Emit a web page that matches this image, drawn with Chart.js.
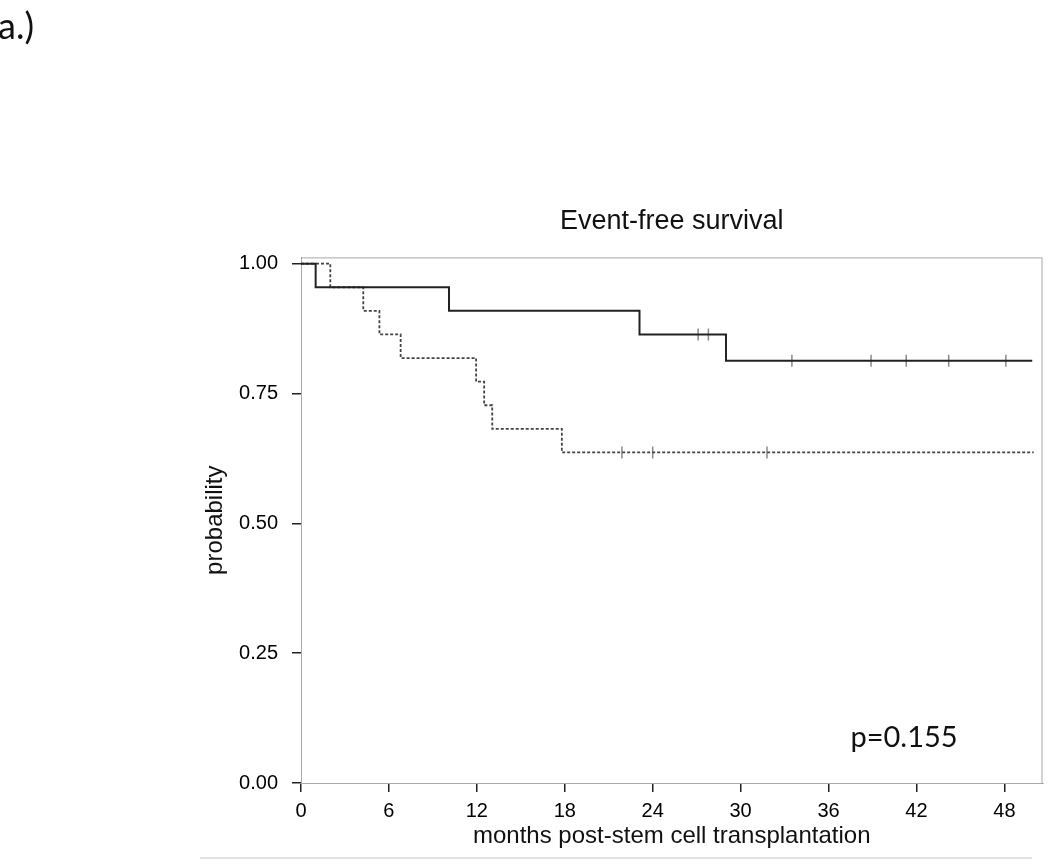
<!DOCTYPE html>
<html lang="en">
<head>
    <meta charset="UTF-8">
    <title>Event-free survival</title>
    <script src="https://cdn.jsdelivr.net/npm/chart.js@4.4.1/dist/chart.umd.min.js"></script>
    <style>
        html, body { margin: 0; padding: 0; background: #fff; }
        #wrap { width: 1050px; height: 864px; position: relative; }
    </style>
</head>
<body>
    <div id="wrap"><canvas id="kmChart" width="1050" height="864"></canvas></div>
    <script>
        // Kaplan-Meier steps (months, probability)
        const solidTimes = [0, 1, 10.1, 23.1, 29.0, 49.9];
        const solidProb = [1, 0.9545, 0.9091, 0.8636, 0.8128, 0.8128];
        const dashedTimes = [0, 2.0, 4.25, 5.35, 6.8, 11.95, 12.5, 13.05, 17.8, 50];
        const dashedProb = [1, 0.9545, 0.9091, 0.8636, 0.8182, 0.7727, 0.7273, 0.6818, 0.6364, 0.6364];

        // censored observations
        const solidCensorTimes = [27.1, 27.8, 33.5, 38.9, 41.3, 44.2, 48.1];
        const solidCensorProb = [0.8636, 0.8636, 0.8128, 0.8128, 0.8128, 0.8128, 0.8128];
        const dashedCensorTimes = [21.9, 24.0, 31.8];
        const dashedCensorProb = [0.6364, 0.6364, 0.6364];

        // tick labels
        const xTicks = [0, 6, 12, 18, 24, 30, 36, 42, 48];
        const yTicks = [0, 0.25, 0.5, 0.75, 1];

        const toPoints = (xs, ys) => xs.map((x, i) => ({ x: x, y: ys[i] }));

        // frame around plot + extra labels
        const decorPlugin = {
            id: 'decor',
            beforeDatasetsDraw(chart) {
                const { ctx, chartArea } = chart;
                ctx.save();
                ctx.strokeStyle = '#a8a8a8';
                ctx.lineWidth = 1;
                ctx.strokeRect(chartArea.left + 0.5, chartArea.top + 0.5,
                    chartArea.right - chartArea.left - 1, chartArea.bottom - chartArea.top);
                ctx.restore();
            },
            afterDraw(chart) {
                const { ctx } = chart;
                ctx.save();
                ctx.fillStyle = '#111';
                ctx.font = '36px Lato, "Open Sans", sans-serif';
                ctx.textBaseline = 'alphabetic';
                ctx.textAlign = 'left';
                ctx.fillText('a.)', -2, 39);

                ctx.font = '29px Lato, "Open Sans", sans-serif';
                ctx.textAlign = 'center';
                ctx.fillText('p=0.155', 904, 747);

                ctx.strokeStyle = '#e2e2e2';
                ctx.lineWidth = 2;
                ctx.beginPath();
                ctx.moveTo(200, 858);
                ctx.lineTo(1032, 858);
                ctx.stroke();
                ctx.restore();
            }
        };

        function renderChart() {
            const ctx = document.getElementById('kmChart').getContext('2d');
            const tickFont = { family: '"Liberation Sans", Arial, sans-serif', size: 20 };

            new Chart(ctx, {
                type: 'line',
                data: {
                    datasets: [{
                        label: 'group 1',
                        data: toPoints(solidTimes, solidProb),
                        stepped: 'before',
                        borderColor: '#222',
                        borderWidth: 2,
                        pointRadius: 0,
                        fill: false
                    }, {
                        label: 'group 2',
                        data: toPoints(dashedTimes, dashedProb),
                        stepped: 'before',
                        borderColor: '#444',
                        borderWidth: 1.8,
                        borderDash: [3, 2],
                        pointRadius: 0,
                        fill: false
                    }, {
                        label: 'censored 1',
                        type: 'scatter',
                        data: toPoints(solidCensorTimes, solidCensorProb),
                        pointStyle: 'line',
                        rotation: 90,
                        radius: 6,
                        borderColor: '#8a8a8a',
                        borderWidth: 1.5,
                        showLine: false
                    }, {
                        label: 'censored 2',
                        type: 'scatter',
                        data: toPoints(dashedCensorTimes, dashedCensorProb),
                        pointStyle: 'line',
                        rotation: 90,
                        radius: 6,
                        borderColor: '#8a8a8a',
                        borderWidth: 1.5,
                        showLine: false
                    }]
                },
                options: {
                    responsive: false,
                    animation: false,
                    layout: { padding: { left: 0, right: 7, top: 0, bottom: 0 } },
                    plugins: {
                        legend: { display: false },
                        tooltip: { enabled: false },
                        title: {
                            display: true,
                            text: 'Event-free survival',
                            fullSize: false,
                            color: '#111',
                            font: { family: '"Liberation Sans", Arial, sans-serif', size: 27, weight: 'normal' },
                            padding: { top: 205, bottom: 20 }
                        }
                    },
                    scales: {
                        x: {
                            type: 'linear',
                            min: 0,
                            max: 50.6,
                            afterFit: (scale) => { scale.height = 81; },
                            afterBuildTicks: (scale) => { scale.ticks = xTicks.map(v => ({ value: v })); },
                            ticks: {
                                color: '#000',
                                font: tickFont,
                                padding: 7,
                                maxRotation: 0,
                                callback: (v) => String(v)
                            },
                            grid: { drawOnChartArea: false, tickLength: 9, color: '#222', lineWidth: 1.5 },
                            border: { color: '#888', width: 1 },
                            title: {
                                display: true,
                                text: 'months post-stem cell transplantation',
                                color: '#111',
                                font: { family: '"Liberation Sans", Arial, sans-serif', size: 24 },
                                padding: { top: 0, bottom: 13 }
                            }
                        },
                        y: {
                            type: 'linear',
                            min: 0,
                            max: 1.012,
                            afterFit: (scale) => { scale.width = 301; },
                            afterBuildTicks: (scale) => { scale.ticks = yTicks.map(v => ({ value: v })); },
                            ticks: {
                                color: '#000',
                                font: tickFont,
                                padding: 14,
                                callback: (v) => Number(v).toFixed(2)
                            },
                            grid: { drawOnChartArea: false, tickLength: 9, color: '#222', lineWidth: 1.5 },
                            border: { color: '#888', width: 1 },
                            title: {
                                display: true,
                                text: 'probability',
                                color: '#111',
                                font: { family: '"Liberation Sans", Arial, sans-serif', size: 24 },
                                padding: { top: 201, bottom: 0 }
                            }
                        }
                    }
                },
                plugins: [decorPlugin]
            });
        }

        document.addEventListener('DOMContentLoaded', renderChart);
    </script>
</body>
</html>
